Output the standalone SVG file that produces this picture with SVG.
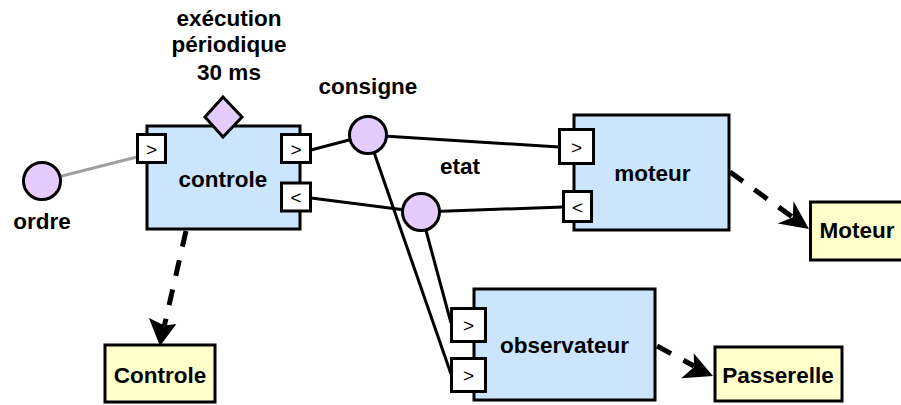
<svg xmlns="http://www.w3.org/2000/svg" width="901" height="405" viewBox="0 0 901 405">
<style>
text{font-family:"Liberation Sans",Arial,sans-serif;font-weight:bold;font-size:22.5px;fill:#000;text-anchor:middle}
.port{fill:#fff;stroke:#000;stroke-width:3}
.portt{font-weight:normal;font-size:19px}
.block{fill:#cce5ff;stroke:#000;stroke-width:3}
.art{fill:#ffffcc;stroke:#000;stroke-width:3}
.data{fill:#e5ccff;stroke:#000;stroke-width:3}
.link{stroke:#000;stroke-width:3;fill:none}
.dep{stroke:#000;stroke-width:5;fill:none;stroke-dasharray:16 14}
.head{fill:#000}
</style>
<g id="connectors">
<line x1="42" y1="181" x2="137" y2="157" stroke="#a0a0a0" stroke-width="3"/>
<line class="link" x1="311" y1="150" x2="368" y2="135"/>
<line class="link" x1="368" y1="135" x2="559" y2="147"/>
<line class="link" x1="311" y1="198" x2="421" y2="212"/>
<line class="link" x1="421" y1="212" x2="563" y2="207"/>
<line class="link" x1="368" y1="135" x2="451" y2="374"/>
<line class="link" x1="421" y1="212" x2="451" y2="323"/>
<path class="dep" d="M186,231 L164.4,325.5"/>
<path class="dep" d="M730,172 L792.8,217.3"/>
<path class="dep" d="M657,346 L694,366"/>
<path class="head" d="M160,346 L148.9,318 L164.4,325.5 L176.4,324 Z"/>
<path class="head" d="M809,229 L777.7,223.5 L792.8,217.3 L793.5,201.2 Z"/>
<path class="head" d="M713,376 L681.2,378.2 L694.1,366.9 L693.7,353.3 Z"/>
</g>
<g id="ordre">
<circle class="data" cx="42" cy="181" r="18.5"/>
<text x="42" y="229">ordre</text>
</g>
<g id="controle">
<rect class="block" x="147" y="126" width="153" height="103"/>
<polygon class="data" points="223,97 242,117 223,137 205,117"/>
<text x="223" y="187">controle</text>
<rect class="port" x="137.5" y="134.5" width="28" height="28"/>
<text class="portt" x="151.5" y="155.5">&gt;</text>
<rect class="port" x="281.5" y="134.5" width="29" height="28"/>
<text class="portt" x="296" y="155.5">&gt;</text>
<rect class="port" x="281.5" y="183" width="29" height="28"/>
<text class="portt" x="296" y="204">&lt;</text>
</g>
<g id="periode">
<text x="229" y="26">exécution</text>
<text x="229" y="52">périodique</text>
<text x="229" y="80">30 ms</text>
</g>
<g id="consigne">
<circle class="data" cx="368" cy="135" r="18.5"/>
<text x="368" y="94">consigne</text>
</g>
<g id="etat">
<circle class="data" cx="421" cy="212" r="18.5"/>
<text x="460" y="174">etat</text>
</g>
<g id="moteur">
<rect class="block" x="574" y="115" width="155" height="115"/>
<text x="652.5" y="181">moteur</text>
<rect class="port" x="559.5" y="129.5" width="34" height="34"/>
<text class="portt" x="576.5" y="153.5">&gt;</text>
<rect class="port" x="563.5" y="191.5" width="28" height="30"/>
<text class="portt" x="577.5" y="213.5">&lt;</text>
</g>
<g id="observateur">
<rect class="block" x="474" y="289" width="181" height="111"/>
<text x="564.5" y="353">observateur</text>
<rect class="port" x="451.5" y="308.5" width="34" height="33"/>
<text class="portt" x="468.5" y="332">&gt;</text>
<rect class="port" x="451.5" y="358.5" width="34" height="33"/>
<text class="portt" x="468.5" y="382">&gt;</text>
</g>
<g id="Controle">
<rect class="art" x="105" y="345" width="110" height="57"/>
<text x="160" y="383">Controle</text>
</g>
<g id="Moteur">
<rect class="art" x="810.5" y="202" width="100" height="58"/>
<text x="857" y="238">Moteur</text>
</g>
<g id="Passerelle">
<rect class="art" x="715" y="347" width="127" height="54"/>
<text x="778" y="383">Passerelle</text>
</g>
</svg>
